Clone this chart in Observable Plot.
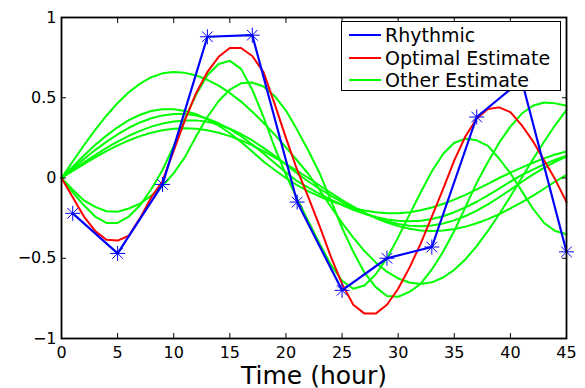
<!DOCTYPE html>
<html><head><meta charset="utf-8">
<script src="https://cdn.jsdelivr.net/npm/d3@7"></script>
<script src="https://cdn.jsdelivr.net/npm/@observablehq/plot@0.6"></script>
<style>
body{margin:0;background:#fff;}
#wrap{position:relative;width:585px;height:388px;font-family:"DejaVu Sans",sans-serif;}
#legend{position:absolute;left:341px;top:21px;width:218px;height:68px;border:1.5px solid #000;background:#fff;}
.sw{position:absolute;left:7px;width:32px;height:2px;}
.lab{position:absolute;left:43px;font-size:19px;line-height:22px;color:#000;white-space:nowrap;}
</style></head>
<body><div id="wrap"></div>
<script>
// ---- data ----
const xTicks = [0, 5, 10, 15, 20, 25, 30, 35, 40, 45];
const yTicks = [-1, -0.5, 0, 0.5, 1];
const yTickLabels = ["\u22121", "\u22120.5", "0", "0.5", "1"];
const seriesNames = ["Rhythmic", "Optimal Estimate", "Other Estimate"];
const seriesColors = ["#0000ff", "#ff0000", "#00ff00"];

const rhythmHours = [1, 5, 9, 13, 17, 21, 25, 29, 33, 37, 41, 45];
const rhythmic = [-0.22, -0.47, -0.04, 0.88, 0.89, -0.15, -0.70, -0.50, -0.43, 0.38, 0.61, -0.46];

// hourly estimates, hour 0..45
const optimal = [0, -0.12, -0.24, -0.33, -0.385, -0.39, -0.36, -0.25, -0.12, -0.02, 0.17, 0.36, 0.53, 0.66, 0.755, 0.81, 0.81, 0.76, 0.66, 0.46, 0.25, 0.05, -0.12, -0.3, -0.49, -0.66, -0.79, -0.845, -0.845, -0.79, -0.69, -0.56, -0.41, -0.24, -0.07, 0.11, 0.26, 0.37, 0.43, 0.44, 0.41, 0.33, 0.23, 0.11, -0.01, -0.15];
const otherA = [0, -0.09, -0.17, -0.24, -0.28, -0.28, -0.24, -0.17, -0.07, 0.05, 0.2, 0.37, 0.52, 0.64, 0.71, 0.73, 0.68, 0.55, 0.38, 0.19, 0.02, -0.13, -0.27, -0.41, -0.54, -0.64, -0.69, -0.67, -0.6, -0.5, -0.37, -0.23, -0.09, 0.04, 0.15, 0.22, 0.245, 0.235, 0.2, 0.12, 0.03, -0.08, -0.19, -0.28, -0.33, -0.35];
const otherB = [0, -0.073, -0.14, -0.18, -0.207, -0.21, -0.19, -0.16, -0.11, -0.05, 0.03, 0.13, 0.26, 0.38, 0.48, 0.55, 0.59, 0.595, 0.57, 0.51, 0.42, 0.30, 0.17, 0.03, -0.14, -0.31, -0.46, -0.59, -0.68, -0.735, -0.74, -0.71, -0.66, -0.57, -0.46, -0.33, -0.18, -0.03, 0.1, 0.22, 0.32, 0.40, 0.45, 0.47, 0.465, 0.45];
const otherC = [0, 0.103, 0.204, 0.300, 0.388, 0.467, 0.534, 0.588, 0.628, 0.652, 0.66, 0.655, 0.639, 0.612, 0.576, 0.530, 0.476, 0.413, 0.344, 0.270, 0.191, 0.109, 0.025, -0.075, -0.179, -0.279, -0.372, -0.455, -0.526, -0.584, -0.626, -0.651, -0.66, -0.650, -0.620, -0.572, -0.506, -0.424, -0.33, -0.226, -0.115, 0, 0.115, 0.226, 0.33, 0.424];
const otherD = [0, 0.071, 0.14, 0.205, 0.264, 0.316, 0.36, 0.394, 0.417, 0.429, 0.429, 0.418, 0.397, 0.367, 0.327, 0.279, 0.225, 0.165, 0.103, 0.05, 0.0, -0.045, -0.083, -0.115, -0.143, -0.167, -0.188, -0.203, -0.214, -0.219, -0.219, -0.213, -0.201, -0.184, -0.162, -0.135, -0.105, -0.071, -0.036, 0.0, 0.033, 0.065, 0.095, 0.122, 0.146, 0.165];
const otherE = [0, 0.060, 0.118, 0.174, 0.225, 0.272, 0.313, 0.346, 0.372, 0.390, 0.399, 0.399, 0.389, 0.370, 0.341, 0.304, 0.260, 0.209, 0.153, 0.093, 0.035, -0.02, -0.06, -0.099, -0.135, -0.168, -0.198, -0.223, -0.243, -0.258, -0.267, -0.27, -0.266, -0.255, -0.238, -0.213, -0.183, -0.148, -0.108, -0.066, -0.022, 0.018, 0.052, 0.085, 0.114, 0.139];
const otherF = [0, 0.049, 0.097, 0.143, 0.187, 0.227, 0.263, 0.294, 0.320, 0.339, 0.352, 0.359, 0.359, 0.350, 0.333, 0.307, 0.274, 0.234, 0.188, 0.138, 0.084, 0.028, -0.022, -0.067, -0.110, -0.150, -0.187, -0.220, -0.248, -0.270, -0.287, -0.297, -0.30, -0.296, -0.284, -0.264, -0.237, -0.203, -0.164, -0.120, -0.074, -0.025, 0.021, 0.063, 0.101, 0.134];
const otherG = [0, 0.044, 0.087, 0.129, 0.168, 0.203, 0.234, 0.261, 0.282, 0.297, 0.307, 0.31, 0.307, 0.297, 0.282, 0.261, 0.234, 0.203, 0.168, 0.129, 0.087, 0.044, 0, -0.047, -0.093, -0.137, -0.179, -0.216, -0.249, -0.278, -0.300, -0.316, -0.327, -0.33, -0.327, -0.318, -0.303, -0.282, -0.256, -0.225, -0.190, -0.152, -0.111, -0.067, -0.022, 0.02];

const others = [otherA, otherB, otherC, otherD, otherE, otherF, otherG];

// ---- tables ----
const optimalRows = optimal.map((v, i) => ({hour: i, value: v}));
const otherRows = others.flatMap((s, k) => s.map((v, i) => ({hour: i, value: v, id: k})));
const rhythmRows = rhythmHours.map((h, i) => ({hour: h, value: rhythmic[i]}));

const chart = Plot.plot({
  width: 585, height: 388,
  marginLeft: 61, marginRight: 19, marginTop: 17, marginBottom: 50,
  x: {domain: [0, 45]},
  y: {domain: [-1, 1]},
  style: {fontFamily: "DejaVu Sans", color: "black", background: "white"},
  marks: [
    Plot.line(otherRows, {x: "hour", y: "value", z: "id", stroke: seriesColors[2], strokeWidth: 2}),
    Plot.line(optimalRows, {x: "hour", y: "value", stroke: seriesColors[1], strokeWidth: 2}),
    Plot.line(rhythmRows, {x: "hour", y: "value", stroke: seriesColors[0], strokeWidth: 2.2}),
    Plot.dot(rhythmRows, {x: "hour", y: "value", symbol: "plus", r: 4.9, stroke: seriesColors[0], strokeWidth: 1}),
    Plot.dot(rhythmRows, {x: "hour", y: "value", symbol: "times", r: 4.9, stroke: seriesColors[0], strokeWidth: 1}),
    Plot.frame({stroke: "black", strokeWidth: 1.8}),
    Plot.axisX({anchor: "bottom", ticks: xTicks, tickSize: 5, dy: -5, fill: "none", stroke: "black", label: null}),
    Plot.axisX({anchor: "top", ticks: xTicks, tickSize: 5, dy: 5, fill: "none", stroke: "black", label: null}),
    Plot.axisY({anchor: "left", ticks: yTicks, tickSize: 5, dx: 5, fill: "none", stroke: "black", label: null}),
    Plot.axisY({anchor: "right", ticks: yTicks, tickSize: 5, dx: -5, fill: "none", stroke: "black", label: null}),
    Plot.axisX({anchor: "bottom", ticks: xTicks, tickSize: 0, tickPadding: 8, fontSize: 16,
      label: "Time (hour)", labelAnchor: "center", labelArrow: "none", labelOffset: 45}),
    Plot.axisY({anchor: "left", ticks: yTicks, tickSize: 0, tickPadding: 5, fontSize: 16,
      tickFormat: d => yTickLabels[yTicks.indexOf(d)], label: null})
  ]
});

const xl = chart.querySelector('g[aria-label="x-axis label"]');
if (xl) xl.setAttribute("font-size", "25");

const wrap = document.getElementById("wrap");
wrap.appendChild(chart);

// legend
const legend = document.createElement("div");
legend.id = "legend";
const centers = [12.5, 35.5, 58];
seriesNames.forEach((name, i) => {
  const sw = document.createElement("div");
  sw.className = "sw";
  sw.style.top = (centers[i] - 1) + "px";
  sw.style.background = seriesColors[i];
  const lab = document.createElement("div");
  lab.className = "lab";
  lab.style.top = (centers[i] - 11) + "px";
  lab.textContent = name;
  legend.appendChild(sw);
  legend.appendChild(lab);
});
wrap.appendChild(legend);
</script></body></html>
